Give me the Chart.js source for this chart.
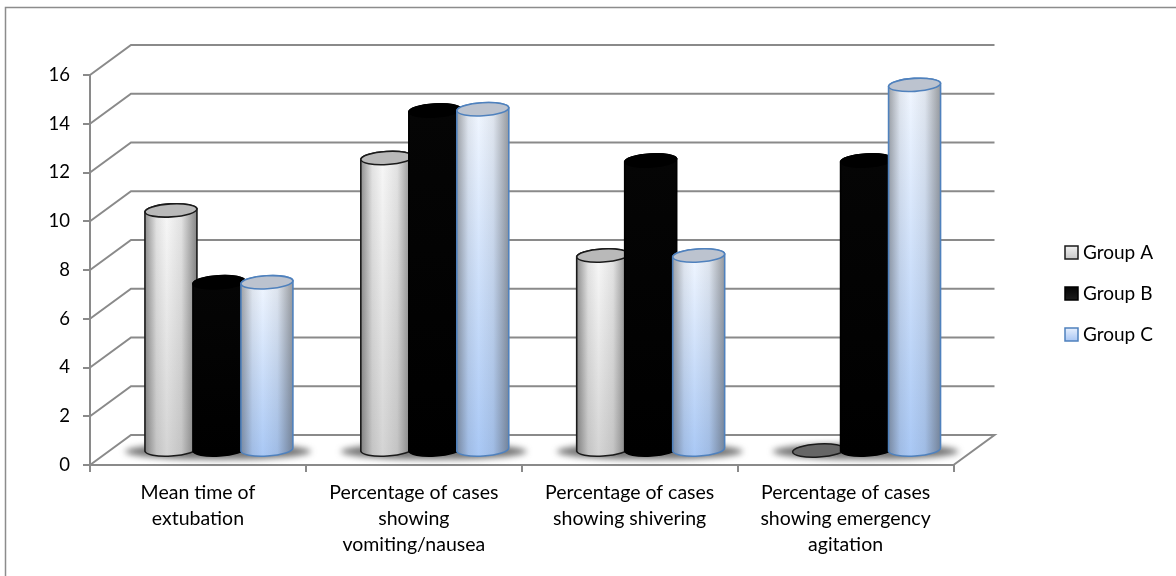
<!DOCTYPE html>
<html>
<head>
<meta charset="utf-8">
<style>html,body{margin:0;padding:0;background:#fff}canvas{display:block}</style>
<script src="https://cdn.jsdelivr.net/npm/chart.js@4/dist/chart.umd.min.js"></script>
</head>
<body>
<canvas id="c" width="1176" height="576"></canvas>
<script>
const categories = [
  ["Mean time of", "extubation"],
  ["Percentage of cases", "showing", "vomiting/nausea"],
  ["Percentage of cases", "showing shivering"],
  ["Percentage of cases", "showing emergency", "agitation"]
];
const groupNames = ["Group A", "Group B", "Group C"];
const groupA = [9.85, 12, 8, 0];
const groupB = [6.9, 13.95, 11.9, 11.9];
const groupC = [6.9, 14, 8, 15];

const FONT = "Lato";
const AXIS = "#8a8a8a";
// Depth of the floor, and where the cylinders stand within it
const WALL = { dx: 41, dy: -30 };
const STAND = { dx: 21, dy: -14.5 };
const TILT = -0.06;
const CAP_RY = 6.5;
const KEY_BOX = 13;

const looks = [
  { edge: "#1a1a1a", cap: "#b9b9b9", top: "#f7f7f7", bottom: "#d4d4d4", shade: 0.55, zero: "#666666" },
  { edge: "#000000", cap: "#000000", top: "#050505", bottom: "#000000", shade: 0, zero: "#000000" },
  { edge: "#4f81bd", cap: "#bcc3cf", top: "#f0f6ff", bottom: "#a9c8f5", shade: 0.45, zero: "#bcc3cf" }
];
const keyFills = [["#f0f0f0", "#c8c8c8"], ["#050505", "#1c1c1c"], ["#e6effd", "#a8c6f4"]];

function cylinder(ctx, el, look) {
  const cx = el.x + STAND.dx, rx = el.width / 2 + 2;
  const top = el.y + STAND.dy, base = el.base + STAND.dy;
  ctx.save();
  if (base - top < 0.5) {
    ctx.beginPath();
    ctx.ellipse(cx, base, rx, CAP_RY, TILT, 0, Math.PI * 2);
    ctx.fillStyle = look.zero;
    ctx.fill();
    ctx.lineWidth = 1.5;
    ctx.strokeStyle = look.edge;
    ctx.stroke();
    ctx.restore();
    return;
  }
  const liftL = Math.sin(TILT) * -rx, liftR = Math.sin(TILT) * rx;
  ctx.beginPath();
  ctx.moveTo(cx - rx, top + liftL);
  ctx.lineTo(cx - rx, base + liftL);
  ctx.ellipse(cx, base, rx, CAP_RY, TILT, Math.PI, 0, true);
  ctx.lineTo(cx + rx, top + liftR);
  ctx.ellipse(cx, top, rx, CAP_RY, TILT, 0, Math.PI, true);
  ctx.closePath();
  const vertical = ctx.createLinearGradient(0, top, 0, base + CAP_RY);
  vertical.addColorStop(0, look.top);
  vertical.addColorStop(1, look.bottom);
  ctx.fillStyle = vertical;
  ctx.fill();
  if (look.shade > 0) {
    const across = ctx.createLinearGradient(cx - rx, 0, cx + rx, 0);
    across.addColorStop(0, `rgba(60,60,60,${look.shade})`);
    across.addColorStop(0.22, `rgba(60,60,60,${look.shade * 0.2})`);
    across.addColorStop(0.42, "rgba(60,60,60,0)");
    across.addColorStop(0.7, `rgba(60,60,60,${look.shade * 0.2})`);
    across.addColorStop(1, `rgba(60,60,60,${look.shade * 1.1})`);
    ctx.fillStyle = across;
    ctx.fill();
  }
  ctx.lineWidth = 1.6;
  ctx.strokeStyle = look.edge;
  ctx.stroke();
  ctx.beginPath();
  ctx.ellipse(cx, top, rx, CAP_RY, TILT, 0, Math.PI * 2);
  ctx.fillStyle = look.cap;
  ctx.fill();
  ctx.stroke();
  ctx.restore();
}

const scene = {
  id: "scene",
  afterLayout(chart) {
    // The key sits well clear of the floor's right corner
    const key = chart.legend;
    const moveX = 1043 - key.left, moveY = 293.5 - (key.top + key.bottom) / 2;
    key.left += moveX; key.right += moveX;
    key.top += moveY; key.bottom += moveY;
  },
  beforeDraw(chart) {
    const ctx = chart.ctx;
    ctx.save();
    ctx.fillStyle = "#fff";
    ctx.fillRect(0, 0, chart.width, chart.height);
    // Outer frame: only its top and left edges fall inside the canvas
    ctx.lineWidth = 1.5;
    ctx.strokeStyle = "#8c8c8c";
    ctx.beginPath();
    ctx.moveTo(5.5, chart.height);
    ctx.lineTo(5.5, 7.5);
    ctx.lineTo(chart.width, 7.5);
    ctx.stroke();
    ctx.restore();
  },
  beforeDatasetsDraw(chart) {
    const { ctx, chartArea: area, scales: { y } } = chart;
    ctx.save();
    ctx.lineWidth = 2;
    ctx.strokeStyle = AXIS;
    y.ticks.forEach(t => {
      const py = y.getPixelForValue(t.value);
      ctx.beginPath();
      ctx.moveTo(area.left, py);
      ctx.lineTo(area.left + WALL.dx, py + WALL.dy);
      ctx.lineTo(area.right + WALL.dx, py + WALL.dy);
      if (t.value === 0) ctx.lineTo(area.right, py);
      ctx.stroke();
    });
    // Soft shadow the cylinders cast on the floor
    ctx.filter = "blur(3px)";
    ctx.fillStyle = "rgba(70,70,70,0.75)";
    const first = chart.getDatasetMeta(0).data, last = chart.getDatasetMeta(2).data;
    first.forEach((el, i) => {
      const l = el.x + STAND.dx - el.width / 2 - 22;
      const r = last[i].x + STAND.dx + last[i].width / 2 + 20;
      const py = y.getPixelForValue(0) + STAND.dy;
      ctx.beginPath();
      ctx.ellipse((l + r) / 2, py + 1, (r - l) / 2, 8, 0, 0, Math.PI * 2);
      ctx.fill();
    });
    ctx.restore();
  },
  afterDatasetsDraw(chart) {
    chart.data.datasets.forEach((ds, d) => {
      chart.getDatasetMeta(d).data.forEach(el => cylinder(chart.ctx, el, looks[d]));
    });
  },
  afterDraw(chart) {
    // Key swatches carry a gradient and sit closer to their text than the default spacing allows
    const ctx = chart.ctx;
    ctx.save();
    chart.legend.legendHitBoxes.forEach((hit, i) => {
      const y = hit.top + (hit.height - KEY_BOX) / 2;
      const tone = ctx.createLinearGradient(0, y, 0, y + KEY_BOX);
      tone.addColorStop(0, keyFills[i][0]);
      tone.addColorStop(1, keyFills[i][1]);
      ctx.fillStyle = tone;
      ctx.strokeStyle = looks[i].edge;
      ctx.lineWidth = 1.5;
      ctx.fillRect(hit.left, y, KEY_BOX, KEY_BOX);
      ctx.strokeRect(hit.left, y, KEY_BOX, KEY_BOX);
    });
    ctx.restore();
  }
};

function legendItems() {
  return groupNames.map((text, i) => ({
    text, datasetIndex: i, fillStyle: "rgba(0,0,0,0)",
    strokeStyle: "rgba(0,0,0,0)", lineWidth: 0, fontColor: "#000"
  }));
}

new Chart(document.getElementById("c"), {
  type: "bar",
  data: {
    labels: categories,
    datasets: [groupA, groupB, groupC].map((values, i) => ({
      label: groupNames[i],
      data: values,
      backgroundColor: "rgba(0,0,0,0)",
      borderWidth: 0,
      categoryPercentage: 0.667,
      barPercentage: 1
    }))
  },
  plugins: [scene],
  options: {
    responsive: false,
    animation: false,
    layout: { padding: { left: 0, top: 75, right: 102.5, bottom: 0 } },
    plugins: {
      tooltip: { enabled: false },
      legend: {
        position: "right",
        labels: {
          boxWidth: 8.5, boxHeight: 12, padding: 22,
          font: { family: FONT, size: 19 }, color: "#000",
          generateLabels: legendItems
        }
      }
    },
    scales: {
      x: {
        afterFit(s) { s.height = 111; },
        grid: { drawOnChartArea: false, drawTicks: true, tickLength: 7, color: AXIS, lineWidth: 2 },
        border: { color: AXIS, width: 2 },
        ticks: { maxRotation: 0, autoSkip: false, color: "#000", padding: 8, font: { family: FONT, size: 19.5, lineHeight: 1.333 } }
      },
      y: {
        min: 0, max: 16,
        afterFit(s) { s.width = 90; },
        grid: { drawOnChartArea: false, drawTicks: true, tickLength: 7, color: AXIS, lineWidth: 2 },
        border: { color: AXIS, width: 2 },
        ticks: { stepSize: 2, color: "#000", padding: 13, font: { family: FONT, size: 18.5 } }
      }
    }
  }
});
</script>
</body>
</html>
